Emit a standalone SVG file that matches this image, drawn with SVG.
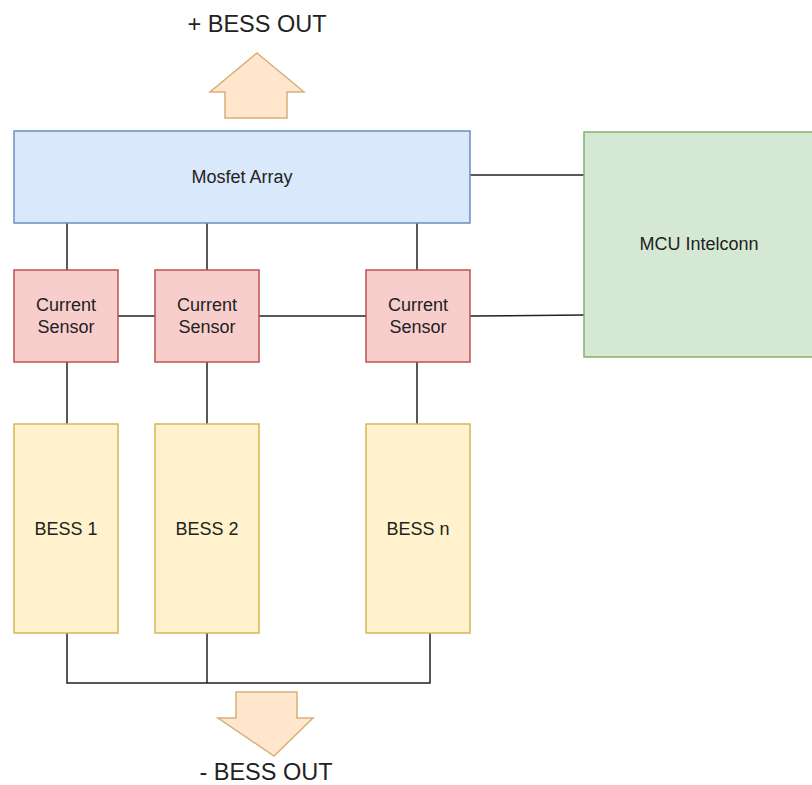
<svg xmlns="http://www.w3.org/2000/svg" width="812" height="785" viewBox="0 0 812 785">
<style>
text{font-family:"Liberation Sans",Arial,sans-serif;font-size:18px;fill:#222;text-anchor:middle;dominant-baseline:central}
.big{font-size:23.5px}
.blue{fill:#dae8fc;stroke:#6c8ebf;stroke-width:1.5}
.red{fill:#f8cecc;stroke:#b85450;stroke-width:1.5}
.green{fill:#d5e8d4;stroke:#82b366;stroke-width:1.5}
.yellow{fill:#fff2cc;stroke:#d6b656;stroke-width:1.5}
.arrow{fill:#ffe6cc;stroke:#d7b07a;stroke-width:1.5}
.wire{fill:none;stroke:#222;stroke-width:1.5}
</style>
<rect width="812" height="785" fill="#ffffff"/>
<g id="connectors">
<line class="wire" x1="67" y1="223" x2="67" y2="270"/>
<line class="wire" x1="207" y1="223" x2="207" y2="270"/>
<line class="wire" x1="417" y1="223" x2="417" y2="270"/>
<line class="wire" x1="470" y1="175" x2="584" y2="175"/>
<line class="wire" x1="118" y1="316" x2="155" y2="316"/>
<line class="wire" x1="259" y1="316" x2="366" y2="316"/>
<line class="wire" x1="470" y1="316" x2="584" y2="315"/>
<line class="wire" x1="67" y1="362" x2="67" y2="424"/>
<line class="wire" x1="207" y1="362" x2="207" y2="424"/>
<line class="wire" x1="417" y1="362" x2="417" y2="424"/>
<polyline class="wire" points="67,633 67,683 430,683 430,633"/>
<line class="wire" x1="207" y1="633" x2="207" y2="683"/>
</g>
<g id="plus-out">
<polygon class="arrow" points="257,53 304,92 287,92 287,118 225,118 225,92 210,92"/>
<text class="big" x="257" y="24">+ BESS OUT</text>
</g>
<g id="minus-out">
<polygon class="arrow" points="236,692 297,692 297,718 313,718 274,756 218,718 236,718"/>
<text class="big" x="266" y="772">- BESS OUT</text>
</g>
<g id="mosfet">
<rect class="blue" x="14" y="131" width="456" height="92"/>
<text x="242" y="177">Mosfet Array</text>
</g>
<g id="mcu">
<rect class="green" x="584" y="132" width="232" height="225"/>
<text x="699" y="244">MCU Intelconn</text>
</g>
<g id="sensor1">
<rect class="red" x="14" y="270" width="104" height="92"/>
<text x="66" y="305">Current</text>
<text x="66" y="327">Sensor</text>
</g>
<g id="sensor2">
<rect class="red" x="155" y="270" width="104" height="92"/>
<text x="207" y="305">Current</text>
<text x="207" y="327">Sensor</text>
</g>
<g id="sensor3">
<rect class="red" x="366" y="270" width="104" height="92"/>
<text x="418" y="305">Current</text>
<text x="418" y="327">Sensor</text>
</g>
<g id="bess1">
<rect class="yellow" x="14" y="424" width="104" height="209"/>
<text x="66" y="529">BESS 1</text>
</g>
<g id="bess2">
<rect class="yellow" x="155" y="424" width="104" height="209"/>
<text x="207" y="529">BESS 2</text>
</g>
<g id="bessn">
<rect class="yellow" x="366" y="424" width="104" height="209"/>
<text x="418" y="529">BESS n</text>
</g>
</svg>
